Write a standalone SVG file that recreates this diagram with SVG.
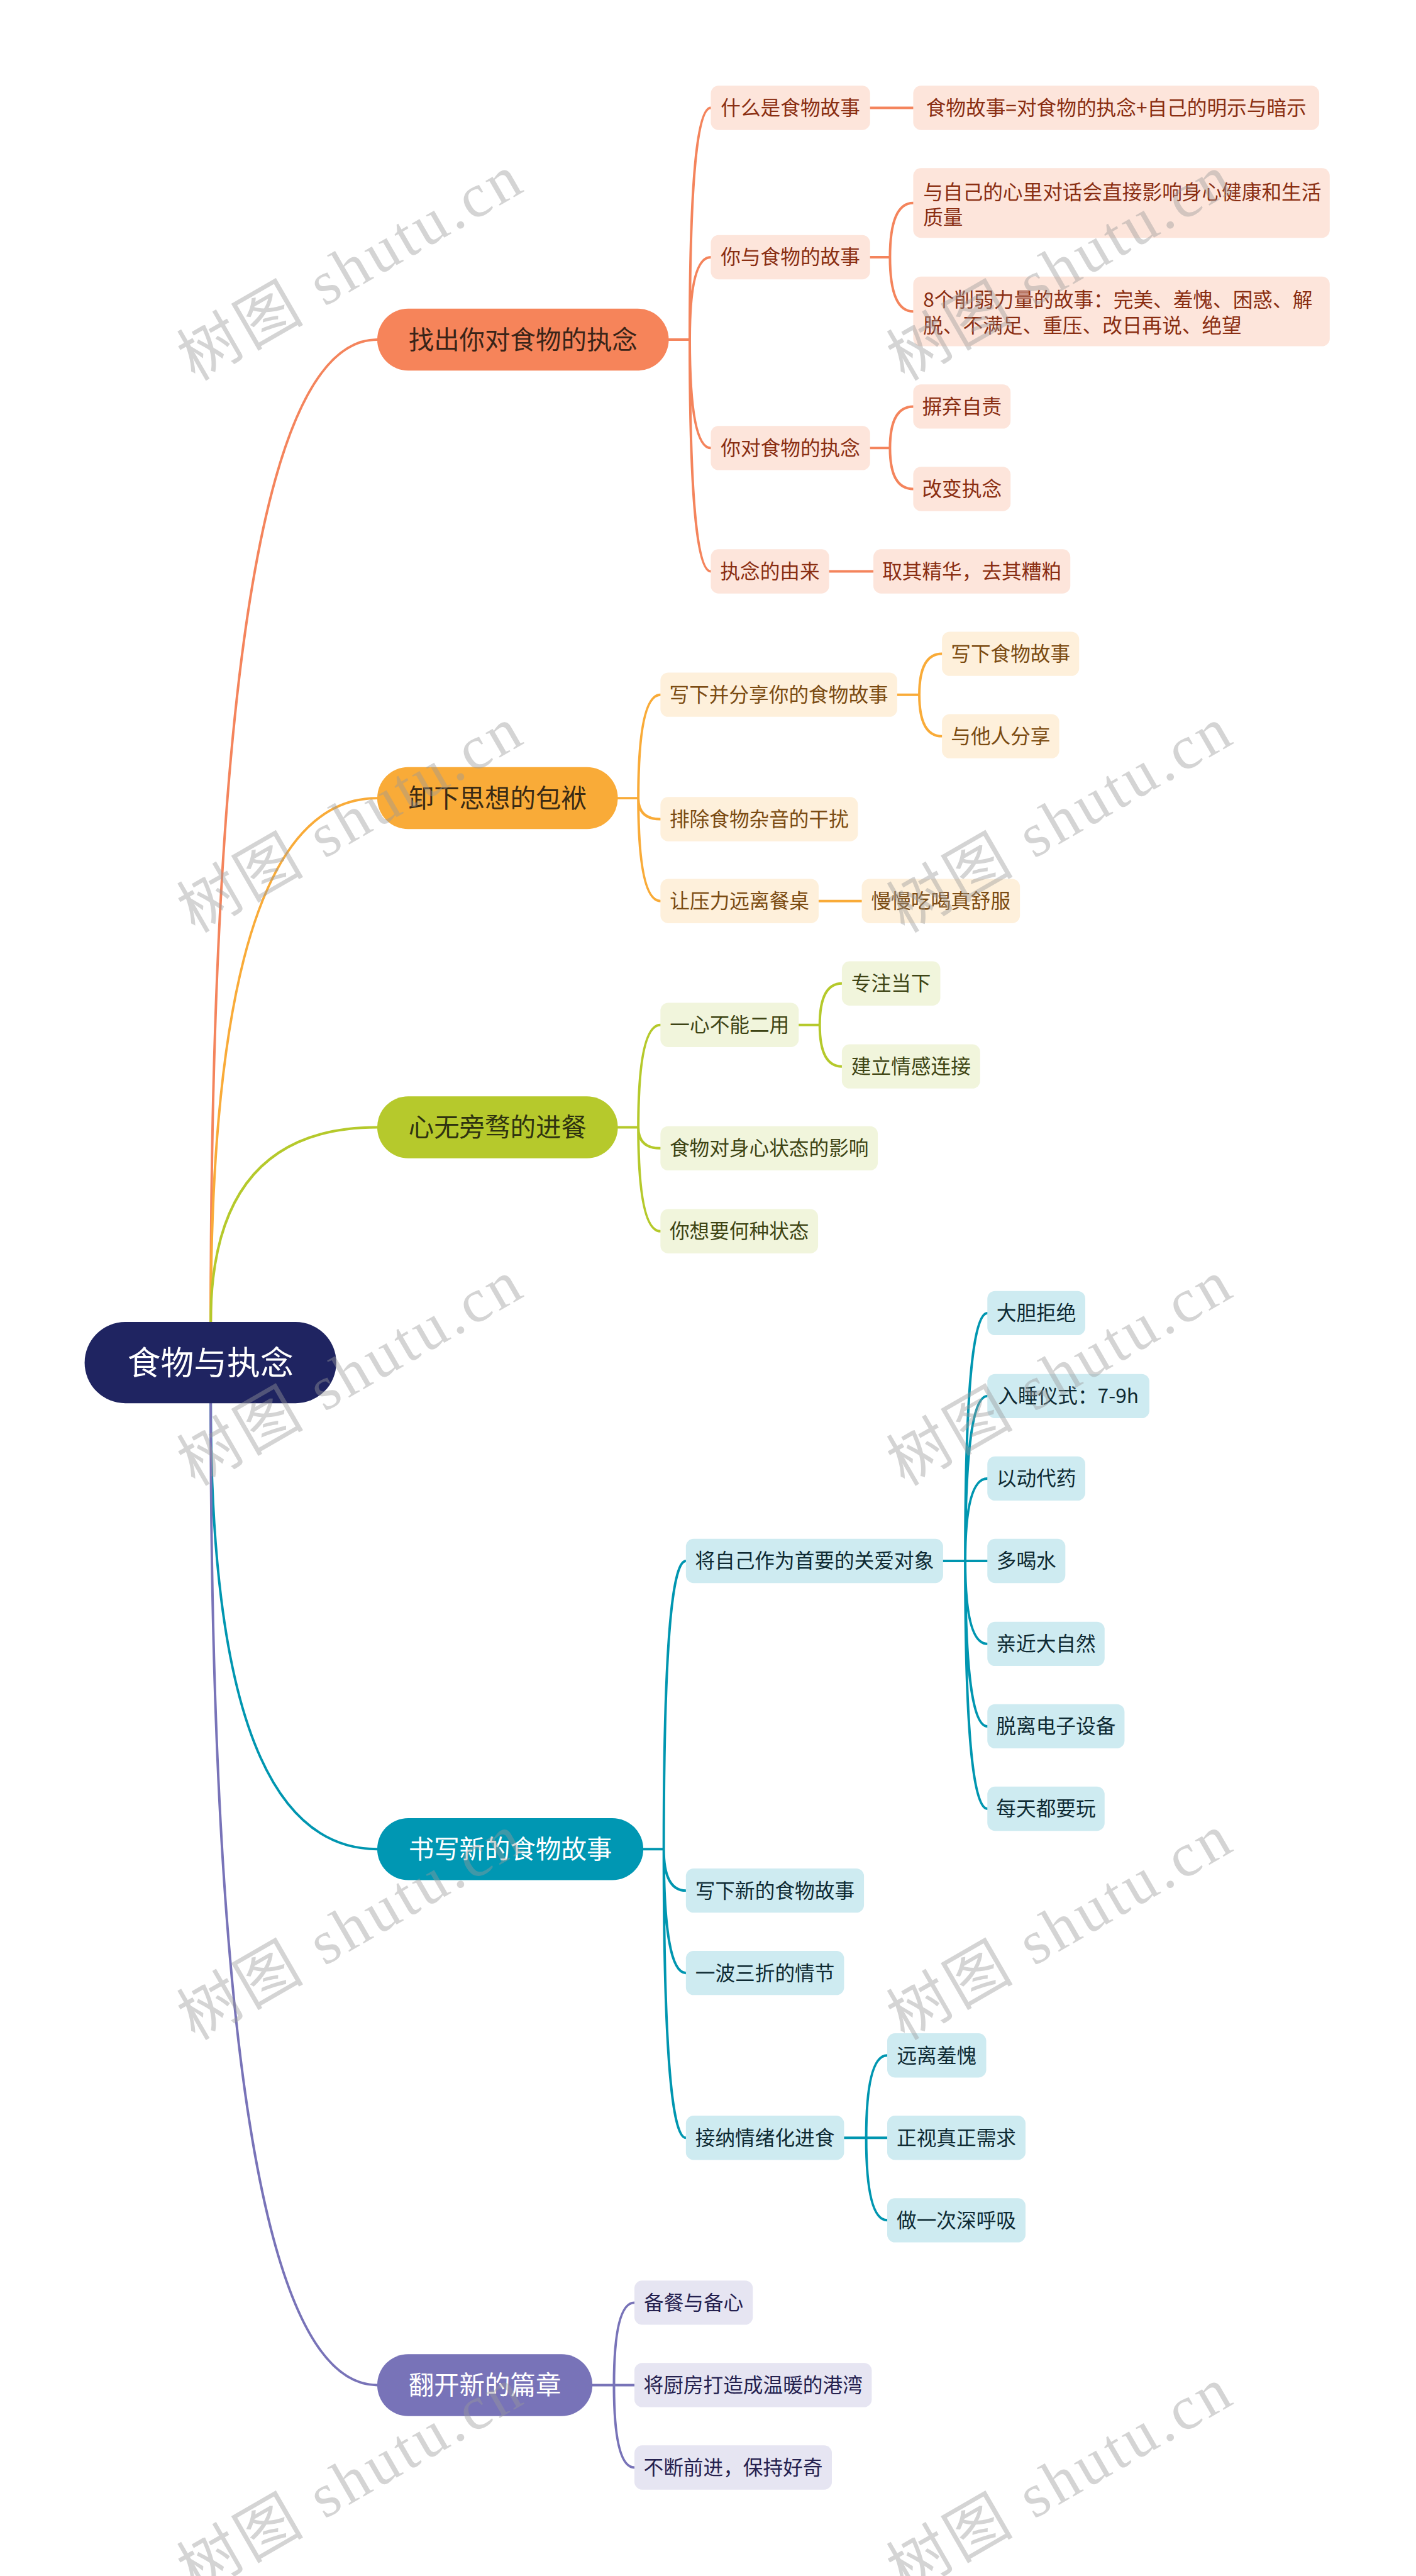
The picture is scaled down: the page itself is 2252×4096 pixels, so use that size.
<svg xmlns="http://www.w3.org/2000/svg" width="2252" height="4096" viewBox="0 0 2252 4096">
<style>
.t{font-family:"Noto Sans CJK SC","Noto Sans",sans-serif;text-anchor:middle}
.s{font-size:36px}
.m{font-size:46px}
.r{font-size:60px;fill:#ffffff}
.ts{font-family:"Noto Sans CJK SC","Noto Sans",sans-serif;font-size:36px}
.c{fill:none;stroke-width:4.5;stroke-linecap:round}
.co{stroke:#F4845C}.cy{stroke:#F9AB38}.cg{stroke:#B5C92B}.ct{stroke:#0096B0}.cp{stroke:#7873B8}
.bo{fill:#FDE5DB}.by{fill:#FEF0DB}.bg{fill:#F1F5DC}.bt{fill:#CEEBF1}.bp{fill:#E6E5F2}
.xo{fill:#8A2E12}.xy{fill:#7B4B12}.xg{fill:#3E4414}.xt{fill:#0E2A33}.xp{fill:#25214F}
.wm{font-family:"Liberation Serif","Noto Sans CJK SC",serif;font-size:112px;fill:#9a9a9a;opacity:0.42}
</style>
<rect width="2252" height="4096" fill="#ffffff"/>
<g transform="scale(0.8797 0.8795)">
<g id="connectors">
<path class="c co" d="M381,2390 Q381,614 682,614"/>
<path class="c cy" d="M381,2390 Q381,1443 682,1443"/>
<path class="c cg" d="M381,2390 Q381,2038 682,2038"/>
<path class="c ct" d="M381,2537 Q381,3343 682,3343"/>
<path class="c cp" d="M381,2537 Q381,4312 682,4312"/>
<path class="c co" d="M1208,614 H1247 M1247,614 Q1247,195 1285,195 M1247,614 Q1247,465 1285,465 M1247,614 Q1247,810 1285,810 M1247,614 Q1247,1033 1285,1033 M1571,195 H1651 M1571,465 H1609 M1609,465 Q1609,367 1651,367 M1609,465 Q1609,563 1651,563 M1571,810 H1609 M1609,810 Q1609,735 1651,735 M1609,810 Q1609,884 1651,884 M1499,1033 H1579"/>
<path class="c cy" d="M1117,1443 H1154 M1154,1443 Q1154,1256 1194,1256 M1154,1443 Q1154,1481 1194,1481 M1154,1443 Q1154,1629 1194,1629 M1622,1256 H1662 M1662,1256 Q1662,1182 1703,1182 M1662,1256 Q1662,1331 1703,1331 M1480,1629 H1558"/>
<path class="c cg" d="M1117,2038 H1154 M1154,2038 Q1154,1853 1194,1853 M1154,2038 Q1154,2076 1194,2076 M1154,2038 Q1154,2226 1194,2226 M1444,1853 H1482 M1482,1853 Q1482,1778 1522,1778 M1482,1853 Q1482,1928 1522,1928"/>
<path class="c ct" d="M1163,3343 H1200 M1200,3343 Q1200,2822 1240,2822 M1200,3343 Q1200,3418 1240,3418 M1200,3343 Q1200,3567 1240,3567 M1200,3343 Q1200,3865 1240,3865 M1705,2822 H1785 M1745,2822 Q1745,2374 1785,2374 M1745,2822 Q1745,2524 1785,2524 M1745,2822 Q1745,2673 1785,2673 M1745,2822 Q1745,2972 1785,2972 M1745,2822 Q1745,3121 1785,3121 M1745,2822 Q1745,3270 1785,3270 M1526,3865 H1604 M1566,3865 Q1566,3716 1604,3716 M1566,3865 Q1566,4014 1604,4014"/>
<path class="c cp" d="M1071,4312 H1147 M1110,4312 Q1110,4163 1147,4163 M1110,4312 Q1110,4461 1147,4461"/>
</g>
<g id="root"><rect x="153" y="2390" width="455" height="147" rx="73.5" fill="#1F2461"/><text class="t r" x="380.5" y="2485">食物与执念</text></g>
<g id="p1"><rect x="682" y="558" width="527" height="112" rx="56" fill="#F6845A"/><text class="t m" x="945.5" y="630.5" fill="#3A2418">找出你对食物的执念</text></g>
<g id="p2"><rect x="682" y="1387" width="435" height="112" rx="56" fill="#F9AB38"/><text class="t m" x="899.5" y="1459.5" fill="#3A2A14">卸下思想的包袱</text></g>
<g id="p3"><rect x="682" y="1982" width="435" height="112" rx="56" fill="#B6C92C"/><text class="t m" x="899.5" y="2054.5" fill="#2F3310">心无旁骛的进餐</text></g>
<g id="p4"><rect x="682" y="3287" width="481" height="112" rx="56" fill="#0097B3"/><text class="t m" x="922.5" y="3359.5" fill="#ffffff">书写新的食物故事</text></g>
<g id="p5"><rect x="682" y="4256" width="389" height="112" rx="56" fill="#7873B8"/><text class="t m" x="876.5" y="4328.5" fill="#ffffff">翻开新的篇章</text></g>

<g id="n1-1"><rect class="bo" x="1285" y="155" width="288" height="80" rx="14"/><text class="t s xo" x="1429" y="208">什么是食物故事</text></g>
<g id="n1-1-1"><rect class="bo" x="1651" y="155" width="734" height="80" rx="14"/><text class="t s xo" x="2018" y="208">食物故事=对食物的执念+自己的明示与暗示</text></g>
<g id="n1-2"><rect class="bo" x="1285" y="425" width="288" height="80" rx="14"/><text class="t s xo" x="1429" y="478">你与食物的故事</text></g>
<g id="n1-2-1"><rect class="bo" x="1651" y="304" width="753" height="126" rx="14"/><text class="ts xo" x="1669" y="360">与自己的心里对话会直接影响身心健康和生活</text><text class="ts xo" x="1669" y="406">质量</text></g>
<g id="n1-2-2"><rect class="bo" x="1651" y="500" width="753" height="126" rx="14"/><text class="ts xo" x="1669" y="555">8个削弱力量的故事：完美、羞愧、困惑、解</text><text class="ts xo" x="1669" y="601">脱、不满足、重压、改日再说、绝望</text></g>
<g id="n1-3"><rect class="bo" x="1285" y="770" width="288" height="80" rx="14"/><text class="t s xo" x="1429" y="823">你对食物的执念</text></g>
<g id="n1-3-1"><rect class="bo" x="1651" y="695" width="176" height="80" rx="14"/><text class="t s xo" x="1739" y="748">摒弃自责</text></g>
<g id="n1-3-2"><rect class="bo" x="1651" y="844" width="176" height="80" rx="14"/><text class="t s xo" x="1739" y="897">改变执念</text></g>
<g id="n1-4"><rect class="bo" x="1285" y="993" width="214" height="80" rx="14"/><text class="t s xo" x="1392" y="1046">执念的由来</text></g>
<g id="n1-4-1"><rect class="bo" x="1579" y="993" width="356" height="80" rx="14"/><text class="t s xo" x="1757" y="1046">取其精华，去其糟粕</text></g>

<g id="n2-1"><rect class="by" x="1194" y="1216" width="428" height="80" rx="14"/><text class="t s xy" x="1408" y="1269">写下并分享你的食物故事</text></g>
<g id="n2-1-1"><rect class="by" x="1703" y="1142" width="248" height="80" rx="14"/><text class="t s xy" x="1827" y="1195">写下食物故事</text></g>
<g id="n2-1-2"><rect class="by" x="1703" y="1291" width="212" height="80" rx="14"/><text class="t s xy" x="1809" y="1344">与他人分享</text></g>
<g id="n2-2"><rect class="by" x="1194" y="1441" width="357" height="80" rx="14"/><text class="t s xy" x="1372.5" y="1494">排除食物杂音的干扰</text></g>
<g id="n2-3"><rect class="by" x="1194" y="1589" width="286" height="80" rx="14"/><text class="t s xy" x="1337" y="1642">让压力远离餐桌</text></g>
<g id="n2-3-1"><rect class="by" x="1558" y="1589" width="286" height="80" rx="14"/><text class="t s xy" x="1701" y="1642">慢慢吃喝真舒服</text></g>

<g id="n3-1"><rect class="bg" x="1194" y="1813" width="250" height="80" rx="14"/><text class="t s xg" x="1319" y="1866">一心不能二用</text></g>
<g id="n3-1-1"><rect class="bg" x="1522" y="1738" width="178" height="80" rx="14"/><text class="t s xg" x="1611" y="1791">专注当下</text></g>
<g id="n3-1-2"><rect class="bg" x="1522" y="1888" width="250" height="80" rx="14"/><text class="t s xg" x="1647" y="1941">建立情感连接</text></g>
<g id="n3-2"><rect class="bg" x="1194" y="2036" width="393" height="80" rx="14"/><text class="t s xg" x="1390.5" y="2089">食物对身心状态的影响</text></g>
<g id="n3-3"><rect class="bg" x="1194" y="2186" width="285" height="80" rx="14"/><text class="t s xg" x="1336.5" y="2239">你想要何种状态</text></g>

<g id="n4-1"><rect class="bt" x="1240" y="2782" width="465" height="80" rx="14"/><text class="t s xt" x="1472.5" y="2835">将自己作为首要的关爱对象</text></g>
<g id="n4-1-1"><rect class="bt" x="1785" y="2334" width="177" height="80" rx="14"/><text class="t s xt" x="1873.5" y="2387">大胆拒绝</text></g>
<g id="n4-1-2"><rect class="bt" x="1785" y="2484" width="293" height="80" rx="14"/><text class="t s xt" x="1931.5" y="2537">入睡仪式：7-9h</text></g>
<g id="n4-1-3"><rect class="bt" x="1785" y="2633" width="177" height="80" rx="14"/><text class="t s xt" x="1873.5" y="2686">以动代药</text></g>
<g id="n4-1-4"><rect class="bt" x="1785" y="2782" width="141" height="80" rx="14"/><text class="t s xt" x="1855.5" y="2835">多喝水</text></g>
<g id="n4-1-5"><rect class="bt" x="1785" y="2932" width="212" height="80" rx="14"/><text class="t s xt" x="1891" y="2985">亲近大自然</text></g>
<g id="n4-1-6"><rect class="bt" x="1785" y="3081" width="248" height="80" rx="14"/><text class="t s xt" x="1909" y="3134">脱离电子设备</text></g>
<g id="n4-1-7"><rect class="bt" x="1785" y="3230" width="212" height="80" rx="14"/><text class="t s xt" x="1891" y="3283">每天都要玩</text></g>
<g id="n4-2"><rect class="bt" x="1240" y="3378" width="322" height="80" rx="14"/><text class="t s xt" x="1401" y="3431">写下新的食物故事</text></g>
<g id="n4-3"><rect class="bt" x="1240" y="3527" width="286" height="80" rx="14"/><text class="t s xt" x="1383" y="3580">一波三折的情节</text></g>
<g id="n4-4"><rect class="bt" x="1240" y="3825" width="286" height="80" rx="14"/><text class="t s xt" x="1383" y="3878">接纳情绪化进食</text></g>
<g id="n4-4-1"><rect class="bt" x="1604" y="3676" width="179" height="80" rx="14"/><text class="t s xt" x="1693.5" y="3729">远离羞愧</text></g>
<g id="n4-4-2"><rect class="bt" x="1604" y="3825" width="250" height="80" rx="14"/><text class="t s xt" x="1729" y="3878">正视真正需求</text></g>
<g id="n4-4-3"><rect class="bt" x="1604" y="3974" width="250" height="80" rx="14"/><text class="t s xt" x="1729" y="4027">做一次深呼吸</text></g>

<g id="n5-1"><rect class="bp" x="1147" y="4123" width="214" height="80" rx="14"/><text class="t s xp" x="1254" y="4176">备餐与备心</text></g>
<g id="n5-2"><rect class="bp" x="1147" y="4272" width="429" height="80" rx="14"/><text class="t s xp" x="1361.5" y="4325">将厨房打造成温暖的港湾</text></g>
<g id="n5-3"><rect class="bp" x="1147" y="4421" width="357" height="80" rx="14"/><text class="t s xp" x="1325.5" y="4474">不断前进，保持好奇</text></g>

<g id="watermarks">
<text class="wm" x="352" y="690" transform="rotate(-30 352 690)" textLength="690" lengthAdjust="spacing">树图 shutu.cn</text>
<text class="wm" x="1635" y="690" transform="rotate(-30 1635 690)" textLength="690" lengthAdjust="spacing">树图 shutu.cn</text>
<text class="wm" x="352" y="1688" transform="rotate(-30 352 1688)" textLength="690" lengthAdjust="spacing">树图 shutu.cn</text>
<text class="wm" x="1635" y="1688" transform="rotate(-30 1635 1688)" textLength="690" lengthAdjust="spacing">树图 shutu.cn</text>
<text class="wm" x="352" y="2688" transform="rotate(-30 352 2688)" textLength="690" lengthAdjust="spacing">树图 shutu.cn</text>
<text class="wm" x="1635" y="2688" transform="rotate(-30 1635 2688)" textLength="690" lengthAdjust="spacing">树图 shutu.cn</text>
<text class="wm" x="352" y="3690" transform="rotate(-30 352 3690)" textLength="690" lengthAdjust="spacing">树图 shutu.cn</text>
<text class="wm" x="1635" y="3690" transform="rotate(-30 1635 3690)" textLength="690" lengthAdjust="spacing">树图 shutu.cn</text>
<text class="wm" x="352" y="4690" transform="rotate(-30 352 4690)" textLength="690" lengthAdjust="spacing">树图 shutu.cn</text>
<text class="wm" x="1635" y="4690" transform="rotate(-30 1635 4690)" textLength="690" lengthAdjust="spacing">树图 shutu.cn</text>
</g>
</g>
</svg>
